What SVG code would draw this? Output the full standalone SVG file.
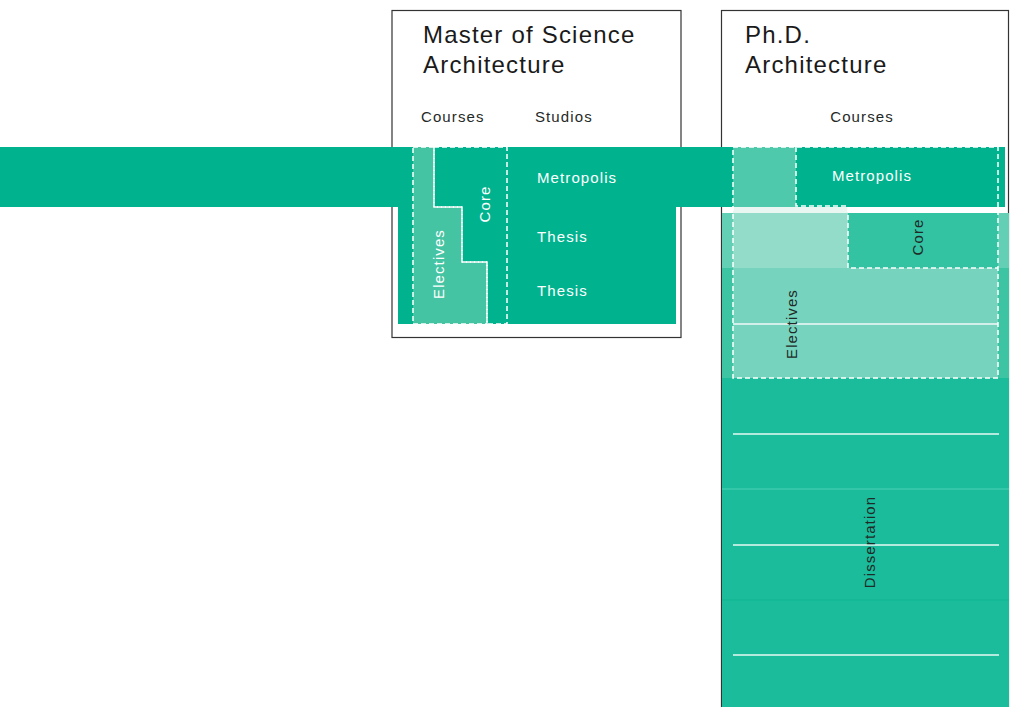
<svg xmlns="http://www.w3.org/2000/svg" width="1016" height="707" viewBox="0 0 1016 707">
<style>
.box{fill:#fff;stroke:#333;stroke-width:1.2}
.title{font-family:"Liberation Sans",Arial,sans-serif;font-size:24px;letter-spacing:1.2px;fill:#1a1a1a}
.lbl{font-family:"Liberation Sans",Arial,sans-serif;font-size:15px;letter-spacing:1.1px}
.w{fill:#fff}
.d{fill:#1f2a28}
.dash{fill:none;stroke:#fff;stroke-width:1.5;stroke-dasharray:5 3}
.wl{stroke:#fff;stroke-width:1.5;opacity:0.9}
</style>
<g id="ms-box">
<rect class="box" x="392" y="10.5" width="289" height="327"/>
<text class="title" x="423" y="43">Master of Science</text>
<text class="title" x="423" y="73">Architecture</text>
<text class="lbl d" x="421" y="122">Courses</text>
<text class="lbl d" x="535" y="122">Studios</text>
</g>
<g id="phd-box">
<rect class="box" x="721.5" y="10.5" width="287" height="710"/>
<text class="title" x="745" y="43">Ph.D.</text>
<text class="title" x="745" y="73">Architecture</text>
<text class="lbl d" x="862" y="122" text-anchor="middle">Courses</text>
</g>
<g id="ms-content">
<rect x="398" y="147" width="278" height="177" fill="#00b38e"/>
</g>
<g id="phd-column">
<rect x="722" y="213" width="287" height="494" fill="#1bbc9b"/>
<rect x="722" y="213" width="287" height="55" fill="#63cfb5"/>
<rect x="722" y="268" width="287" height="110" fill="#3cc4a3"/>
<line x1="722" y1="489" x2="1009" y2="489" stroke="#4fd0b4" stroke-width="1"/>
<line x1="722" y1="600" x2="1009" y2="600" stroke="#0fb58f" stroke-width="1"/>
<line class="wl" x1="733" y1="434" x2="999" y2="434"/>
<line class="wl" x1="733" y1="545" x2="999" y2="545"/>
<line class="wl" x1="733" y1="655" x2="999" y2="655"/>
<text class="lbl d" transform="translate(875 542) rotate(-90)" text-anchor="middle">Dissertation</text>
</g>
<g id="band">
<rect x="0" y="147" width="1005" height="60" fill="#00b38e"/>
</g>
<g id="ms-electives">
<polygon points="413,147 434,147 434,207 462,207 462,262 487,262 487,324 413,324" fill="#45c4a3"/>
<polygon class="dash" points="413,147 434,147 434,207 462,207 462,262 487,262 487,324 413,324"/>
<text class="lbl w" transform="translate(444 264) rotate(-90)" text-anchor="middle">Electives</text>
</g>
<g id="ms-core">
<polygon class="dash" points="434,147 507,147 507,324 487,324 487,262 462,262 462,207 434,207"/>
<text class="lbl w" transform="translate(490 204) rotate(-90)" text-anchor="middle">Core</text>
</g>
<g id="ms-studios">
<text class="lbl w" x="537" y="183">Metropolis</text>
<text class="lbl w" x="537" y="242">Thesis</text>
<text class="lbl w" x="537" y="296">Thesis</text>
</g>
<g id="phd-electives">
<rect x="733" y="147" width="63" height="60" fill="#4ec9ab"/>
<rect x="733" y="207" width="115" height="61" fill="#93dcca"/>
<rect x="733" y="207" width="115" height="6" fill="#e9f6f2"/>
<rect x="733" y="268" width="265" height="110" fill="#76d3bd"/>
<line class="wl" x1="733" y1="324" x2="998" y2="324"/>
<text class="lbl d" transform="translate(797 324) rotate(-90)" text-anchor="middle">Electives</text>
</g>
<g id="phd-core">
<rect x="848" y="213" width="150" height="55" fill="#33c3a2"/>
<text class="lbl d" transform="translate(923 237) rotate(-90)" text-anchor="middle">Core</text>
</g>
<g id="phd-metropolis">
<text class="lbl w" x="872" y="181" text-anchor="middle">Metropolis</text>
</g>
<g id="connectors">
<rect class="dash" x="733" y="147" width="265" height="231"/>
<polyline class="dash" points="796,147 796,206 848,206 848,268 998,268"/>
</g>
</svg>
